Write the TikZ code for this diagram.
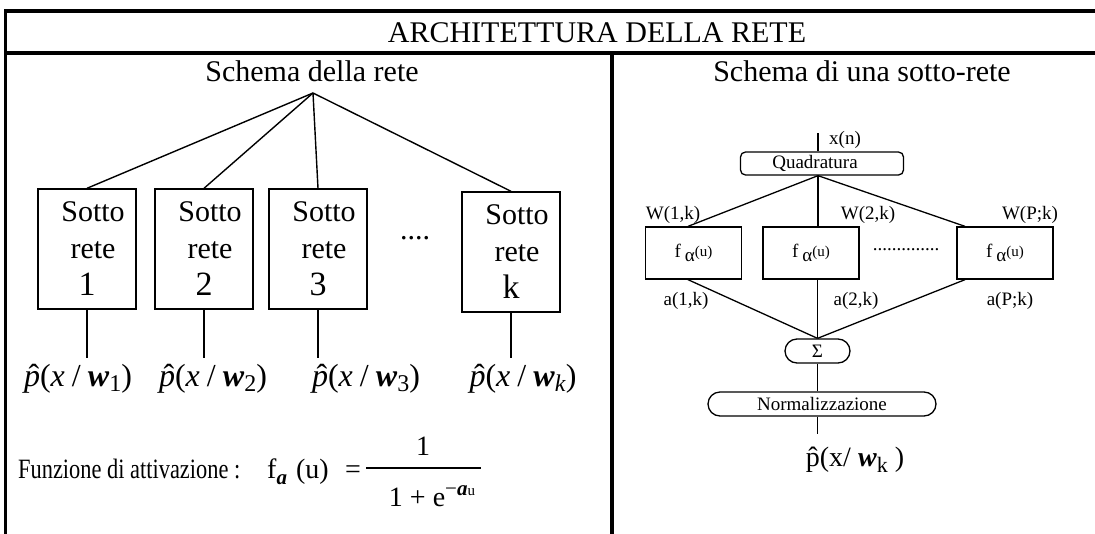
\documentclass[tikz,border=0pt]{standalone}
\usepackage{graphicx}
\usepackage{fontspec}
\setmainfont{Liberation Serif}
\usetikzlibrary{shapes.misc}

\newcommand{\fs}[1]{\fontsize{#1}{#1}\selectfont}
\newcommand{\bw}{\textbf{\textit{w}}}
\newcommand{\bfa}{\textbf{\textit{a}}}
% p with a circumflex set on top of it
\newcommand{\hatp}[2]{\ooalign{#1\cr\hidewidth\kern#2ˆ\hidewidth\cr}}
% estimated density with index
\newcommand{\pest}[1]{\hatp{\textit{p}}{0.12em}(\textit{x}\hspace{0.22em}/\hspace{0.22em}\bw\raisebox{-5pt}{\fs{24}#1})}
% activation of one unit
\newcommand{\fal}{f\hspace{4pt}\raisebox{-4pt}{α}\raisebox{1pt}{\fs{15}(u)}}
% narrow setting of the caption text
\newcommand{\narrow}[1]{\scalebox{0.8}[1]{#1}}

\begin{document}
\begin{tikzpicture}[x=1pt,y=-1pt,
  frame/.style={line width=3.2pt},
  wire/.style={line width=1.4pt},
  thinwire/.style={line width=1.3pt},
  subbox/.style={draw,line width=1.4pt,minimum width=98pt,minimum height=120pt,
    inner sep=0pt,align=center,font=\fontsize{30}{37}\selectfont},
  unitbox/.style={draw,line width=1.3pt,minimum width=96pt,minimum height=52pt,
    inner sep=0pt,font=\fs{19}},
  pill/.style={draw,line width=1.3pt,rounded rectangle,minimum height=24pt,
    inner sep=0pt,font=\fs{19}},
  lbl/.style={font=\fs{19},inner sep=0pt},
  big/.style={font=\fs{30},inner sep=0pt},
  formula/.style={font=\fs{32},inner sep=0pt},
  act/.style={font=\fs{28},inner sep=0pt},
]
\clip (0,0) rectangle (1095,533);

% table frame
\draw[frame] (5.5,540) -- (5.5,11) -- (1100,11);
\draw[frame] (4,53) -- (1100,53);
\draw[frame] (612,53) -- (612,540);

% headings
\node[big] (title) at (597,33) {ARCHITETTURA DELLA RETE};
\node[big] (hleft) at (312,71) {Schema della rete};
\node[big] (hright) at (862,71) {Schema di una sotto-rete};

% ---- whole network ----
\coordinate (apex) at (313,93);
\coordinate (lowrow) at (0,358);

\node[subbox] (b1) at (87,249) {\hspace*{12pt}Sotto\\\hspace*{12pt}rete\\{\fs{34}1}};
\node[subbox] (b2) at (204,249) {\hspace*{12pt}Sotto\\\hspace*{12pt}rete\\{\fs{34}2}};
\node[subbox] (b3) at (318,249) {\hspace*{12pt}Sotto\\\hspace*{12pt}rete\\{\fs{34}3}};
\node[subbox] (bk) at (511,252) {\hspace*{12pt}Sotto\\\hspace*{12pt}rete\\{\fs{34}k}};
\node[big] (dots1) at (415,238) {....};

\foreach \b in {b1,b2,b3,bk}{
  \draw[wire] (apex) -- (\b.north);
  \draw[wire] (\b.south) -- (\b.south |- lowrow);
}

\node[formula] (p1) at (78,379) {\pest{1}};
\node[formula] (p2) at (213,379) {\pest{2}};
\node[formula] (p3) at (366,379) {\pest{3}};
\node[formula] (pk) at (523,379) {\pest{\textit{k}}};

% activation function
\node[act,anchor=base west] (fname) at (18,478) {\narrow{Funzione di attivazione :}};
\node[act,anchor=base west] (fa) at (267,478)
  {f\raisebox{-6pt}{\fs{21}\bfa}\hspace{9pt}(u)};
\node[act,anchor=base] (eq) at (353,478) {=};
\node[act,anchor=base] (num) at (423,455) {1};
\node[act,anchor=base] (den) at (432,506)
  {1 + e\raisebox{11pt}{\fs{21}−\bfa\fs{15}u}};
\coordinate (barl) at (366,468);
\coordinate (barr) at (481,468);
\draw[thinwire] (barl) -- (barr);

% ---- one sub-network ----
\coordinate (xin) at (818,133);
\node[lbl] (xn) at (845,140) {x(n)};
\node[draw,line width=1.3pt,rounded corners=5pt,minimum width=163pt,minimum height=23pt,
  inner sep=0pt,font=\fs{19}] (quad) at (822,163.5) {Quadratura\hspace*{14pt}};
\draw[thinwire] (xin) -- (quad.north -| xin);
\coordinate (qb) at (quad.south -| xin);

\node[unitbox] (f1) at (693.5,253) {\fal};
\node[unitbox] (f2) at (811,253) {\fal};
\node[unitbox] (fP) at (1005,253) {\fal};
\node[lbl] (dots2) at (906,250) {..............};

\node[lbl] (w1) at (673,215) {W(1,k)};
\node[lbl] (w2) at (868,215) {W(2,k)};
\node[lbl] (wP) at (1030,215) {W(P;k)};
\node[lbl] (a1) at (686,301) {a(1,k)};
\node[lbl] (a2) at (856,301) {a(2,k)};
\node[lbl] (aP) at (1010,301) {a(P;k)};

\node[pill,minimum width=65pt] (sig) at (817.5,351) {Σ};
\node[pill,minimum width=228pt] (norm) at (822,404) {Normalizzazione};
\coordinate (outk) at (817.5,434);

\draw[thinwire] (qb) -- ([xshift=-5.5pt]f1.north);
\draw[thinwire] (qb) -- (f2.north -| qb);
\draw[thinwire] (qb) -- ([xshift=-40pt]fP.north);
\draw[thinwire] ([xshift=-5.5pt]f1.south) -- (sig.north);
\draw[thinwire] (f2.south -| sig.north) -- (sig.north);
\draw[thinwire] ([xshift=-40pt]fP.south) -- (sig.north);
\draw[thinwire] (sig.south) -- (sig.south |- norm.north);
\draw[thinwire] (norm.south -| sig.south) -- (outk);

\node[font=\fs{28},inner sep=0pt] (pout) at (855,460)
  {\hatp{p}{0em}(x/ \bw\raisebox{-6pt}{\fs{22}k} )};
\end{tikzpicture}
\end{document}
